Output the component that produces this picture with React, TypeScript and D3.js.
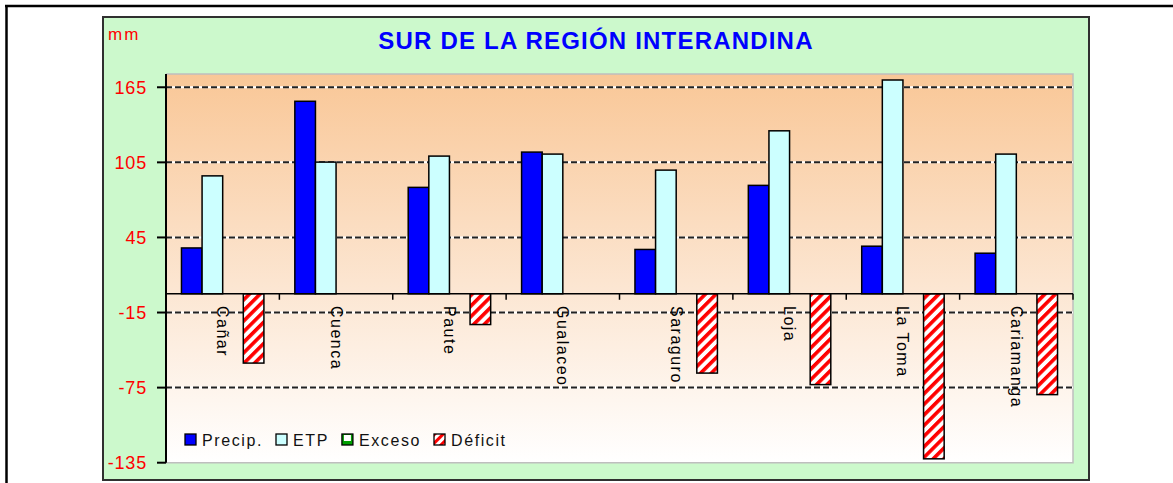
import React, { useEffect, useRef } from "react";
import * as d3 from "d3";

const categories = ["Cañar", "Cuenca", "Paute", "Gualaceo", "Saraguro", "Loja", "La Toma", "Cariamanga"];
const precip = [36.6, 153.8, 85, 113.2, 35.4, 86.6, 38, 32.4];
const etp = [94.2, 105.2, 110, 111.6, 98.8, 130.2, 170.8, 111.6];
const exceso = [0, 0, 0, 0, 0, 0, 0, 0];
const deficit = [-55.4, 0, -24.6, 0, -63.4, -72.6, -131.9, -80.6];
const seriesNames = ["Precip.", "ETP", "Exceso", "Déficit"];
const yTicks = [-135, -75, -15, 45, 105, 165];

const W = 1173;
const H = 483;
const FONT = "'Liberation Sans', Arial, sans-serif";
const panel = { x: 103, y: 17, w: 986, h: 463 };
const plot = { left: 166, right: 1073, top: 74, bottom: 462.7 };

const fills: Record<string, string> = {
  "Precip.": "#0000FF",
  ETP: "#CCFFFF",
  Exceso: "#00A000",
  "Déficit": "url(#hatch)",
};

const App = () => {
  const legendRef = useRef<SVGGElement>(null);

  const x = d3.scaleBand().domain(categories).range([plot.left, plot.right]).padding(0);
  const xs = d3
    .scaleBand()
    .domain(seriesNames)
    .range([0, x.bandwidth()])
    .paddingInner(0)
    .paddingOuter(0.75);
  const y = d3.scaleLinear().domain([-135, 175.6]).range([plot.bottom, plot.top]);

  const seriesValues: Record<string, number[]> = {
    "Precip.": precip,
    ETP: etp,
    Exceso: exceso,
    "Déficit": deficit,
  };

  const bars = seriesNames
    .flatMap((s) => categories.map((c, i) => ({ s, c, v: seriesValues[s][i] })))
    .filter((d) => d.v !== 0);

  useEffect(() => {
    const g = d3.select(legendRef.current);
    g.selectAll("*").remove();
    let lx = 185;
    seriesNames.forEach((name) => {
      const item = g.append("g").attr("transform", `translate(${lx},0)`);
      if (name === "Exceso") {
        item.append("rect").attr("x", 0).attr("y", 434).attr("width", 11).attr("height", 11).attr("fill", "#00A000");
        item.append("rect").attr("x", 2).attr("y", 435).attr("width", 7).attr("height", 6).attr("fill", "#fff");
        item
          .append("rect")
          .attr("x", 0)
          .attr("y", 434)
          .attr("width", 11)
          .attr("height", 11)
          .attr("fill", "none")
          .attr("stroke", "#000")
          .attr("stroke-width", 1.3);
      } else {
        item
          .append("rect")
          .attr("x", 0)
          .attr("y", 434)
          .attr("width", 11)
          .attr("height", 11)
          .attr("fill", name === "Déficit" ? "url(#hatchSmall)" : fills[name])
          .attr("stroke", "#000")
          .attr("stroke-width", 1.3);
      }
      const t = item
        .append("text")
        .attr("x", 17)
        .attr("y", 446)
        .attr("font-family", FONT)
        .attr("font-size", 16)
        .attr("letter-spacing", 1.6)
        .attr("fill", "#111")
        .text(name);
      const len = (t.node() as SVGTextElement).getComputedTextLength();
      lx += 17 + len + 13;
    });
  }, []);

  const ticksX = categories.map((c) => (x(c) as number) + x.bandwidth());

  return (
    <svg width={W} height={H} style={{ position: "absolute", left: 0, top: 0, background: "#fff" }}>
      <defs>
        <linearGradient id="bg" x1="0" y1="0" x2="0" y2="1">
          <stop offset="0%" stopColor="#F9C797" />
          <stop offset="55%" stopColor="#FCE6D2" />
          <stop offset="100%" stopColor="#FFFFFF" />
        </linearGradient>
        <pattern id="hatch" patternUnits="userSpaceOnUse" width={7.5} height={7.5} patternTransform="rotate(45)">
          <rect width={7.5} height={7.5} fill="#fff" />
          <rect width={3.6} height={7.5} fill="#FF0000" />
        </pattern>
        <pattern id="hatchSmall" patternUnits="userSpaceOnUse" width={6} height={6} patternTransform="rotate(45)">
          <rect width={6} height={6} fill="#fff" />
          <rect width={3} height={6} fill="#FF0000" />
        </pattern>
      </defs>

      {/* outer frame */}
      <line x1={5} x2={W} y1={6} y2={6} stroke="#000" strokeWidth={2.5} />
      <line x1={6.5} x2={6.5} y1={5} y2={H} stroke="#000" strokeWidth={2.5} />

      {/* chart panel */}
      <rect x={panel.x} y={panel.y} width={panel.w} height={panel.h} fill="#CCF9CC" stroke="#303030" strokeWidth={2} />

      {/* plot area */}
      <rect
        x={plot.left}
        y={plot.top}
        width={plot.right - plot.left}
        height={plot.bottom - plot.top}
        fill="url(#bg)"
      />
      <polyline
        points={`${plot.left},${plot.top} ${plot.right},${plot.top} ${plot.right},${plot.bottom} ${plot.left},${plot.bottom}`}
        fill="none"
        stroke="#BEBEBE"
        strokeWidth={1.5}
      />

      {/* gridlines and y labels */}
      {yTicks.map((t) => (
        <g key={t}>
          {t !== yTicks[0] && (
            <>
              <line x1={plot.left} x2={plot.right} y1={y(t)} y2={y(t)} stroke="#fff" strokeWidth={2} />
              <line
                x1={plot.left}
                x2={plot.right}
                y1={y(t)}
                y2={y(t)}
                stroke="#222"
                strokeWidth={2}
                strokeDasharray="6,3"
              />
            </>
          )}
          <line x1={plot.left - 9} x2={plot.left} y1={y(t)} y2={y(t)} stroke="#000" strokeWidth={2} />
          <text
            x={147}
            y={y(t) + 6.5}
            textAnchor="end"
            fontFamily={FONT}
            fontSize={18}
            letterSpacing={0.8}
            fill="#FF0000"
          >
            {t}
          </text>
        </g>
      ))}

      {/* category labels */}
      {categories.map((c) => (
        <text
          key={c}
          transform={`translate(${(x(c) as number) + x.bandwidth() / 2},306) rotate(90)`}
          dominantBaseline="central"
          fontFamily={FONT}
          fontSize={16}
          letterSpacing={1.5}
          fill="#000"
        >
          {c}
        </text>
      ))}

      {/* bars */}
      {bars.map((d) => (
        <rect
          key={d.s + d.c}
          x={(x(d.c) as number) + (xs(d.s) as number)}
          y={y(Math.max(0, d.v))}
          width={xs.bandwidth()}
          height={Math.abs(y(d.v) - y(0))}
          fill={fills[d.s]}
          stroke="#000"
          strokeWidth={1.5}
        />
      ))}

      {/* axes */}
      <line x1={plot.left} x2={plot.left} y1={plot.top} y2={plot.bottom} stroke="#000" strokeWidth={2} />
      <line x1={plot.left} x2={plot.right} y1={y(0)} y2={y(0)} stroke="#000" strokeWidth={1.5} />
      {ticksX.map((tx) => (
        <line key={tx} x1={tx} x2={tx} y1={y(0)} y2={y(0) + 6} stroke="#000" strokeWidth={1.5} />
      ))}

      {/* texts */}
      <text x={108} y={40} fontFamily={FONT} fontSize={17} letterSpacing={2} fill="#FF0000">
        mm
      </text>
      <text
        x={(panel.x * 2 + panel.w) / 2}
        y={49.3}
        textAnchor="middle"
        fontFamily={FONT}
        fontSize={24}
        fontWeight="bold"
        letterSpacing={1.2}
        fill="#0000FF"
      >
        SUR DE LA REGIÓN INTERANDINA
      </text>

      <g ref={legendRef} />
    </svg>
  );
};

export default App;
